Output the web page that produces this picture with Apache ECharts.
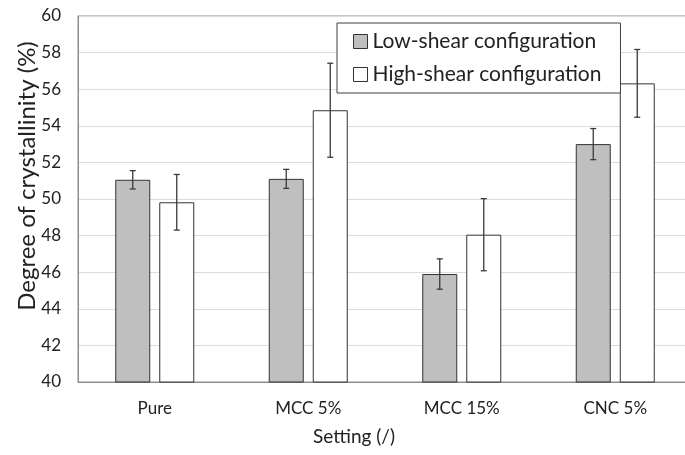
<!DOCTYPE html>
<html><head><meta charset="utf-8">
<script src="https://cdn.jsdelivr.net/npm/echarts@6/dist/echarts.min.js"></script>
<style>html,body{margin:0;padding:0;background:#fff}#c{width:685px;height:455px}</style>
</head><body><div id="c"></div>
<script>
const categories = ['Pure', 'MCC 5%', 'MCC 15%', 'CNC 5%'];
const seriesNames = ['Low-shear configuration', 'High-shear configuration'];
const lowShear = [51.05, 51.1, 45.9, 53.0];
const lowShearErr = [0.5, 0.52, 0.83, 0.85];
const highShear = [49.82, 54.85, 48.05, 56.32];
const highShearErr = [1.52, 2.57, 1.97, 1.85];
const yTicks = [40, 42, 44, 46, 48, 50, 52, 54, 56, 58, 60];
const xTitle = 'Setting (/)';
const yTitle = 'Degree of crystallinity (%)';

const FONT = 'Lato, "Open Sans", sans-serif';
const TXT = '#222';
const BAR_W = 35, GAP = 9;

function errSeries(vals, errs, side) {
  return {
    type: 'custom',
    z: 10,
    silent: true,
    data: vals.map((v, i) => [i, v - errs[i], v + errs[i]]),
    renderItem: function (params, api) {
      const off = side * (BAR_W + GAP) / 2;
      const lo = api.coord([api.value(0), api.value(1)]);
      const hi = api.coord([api.value(0), api.value(2)]);
      const x = lo[0] + off;
      const cap = 3;
      const st = { stroke: '#3a3a3a', lineWidth: 1.3 };
      return {
        type: 'group',
        children: [
          { type: 'line', shape: { x1: x, y1: lo[1], x2: x, y2: hi[1] }, style: st },
          { type: 'line', shape: { x1: x - cap, y1: lo[1], x2: x + cap, y2: lo[1] }, style: st },
          { type: 'line', shape: { x1: x - cap, y1: hi[1], x2: x + cap, y2: hi[1] }, style: st }
        ]
      };
    }
  };
}

const chart = echarts.init(document.getElementById('c'));
chart.setOption({
  animation: false,
  textStyle: { fontFamily: FONT },
  grid: { left: 78, width: 614, top: 16, bottom: 73, show: true, borderColor: '#8c8c8c', borderWidth: 1,
          outerBoundsMode: 'none', containLabel: false },
  legend: {
    left: 337, top: 23, orient: 'vertical',
    data: seriesNames,
    icon: 'rect',
    itemWidth: 14, itemHeight: 14, itemGap: 12,
    padding: [8, 19, 8, 16],
    borderColor: '#404040', borderWidth: 1, backgroundColor: '#fff',
    textStyle: { fontSize: 21, color: TXT, fontFamily: FONT },
    itemStyle: { borderColor: '#333', borderWidth: 1 },
    z: 20
  },
  graphic: [
    { type: 'text', x: 354, y: 437, silent: true,
      style: { text: xTitle, font: '19px ' + FONT, fill: TXT, align: 'center', verticalAlign: 'middle' } },
    { type: 'text', x: 27, y: 176, rotation: Math.PI / 2, silent: true,
      style: { text: yTitle, font: '24px ' + FONT, fill: TXT, align: 'center', verticalAlign: 'middle' } }
  ],
  xAxis: {
    type: 'category', data: categories,
    axisTick: { show: false },
    axisLine: { lineStyle: { color: '#8c8c8c' } },
    axisLabel: { fontSize: 17, color: TXT, margin: 18 }
  },
  yAxis: {
    type: 'value', min: 40, max: 60, interval: 2,
    axisLine: { show: true, lineStyle: { color: '#8c8c8c' } },
    axisTick: { show: false },
    splitLine: { lineStyle: { color: '#dcdcdc', width: 1 } },
    axisLabel: { fontSize: 17, color: TXT, margin: 17,
      formatter: v => yTicks.includes(v) ? String(v) : '' }
  },
  series: [
    { name: seriesNames[0], type: 'bar', data: lowShear, barWidth: BAR_W, barGap: (GAP / BAR_W * 100) + '%',
      itemStyle: { color: '#bfbfbf', borderColor: '#333', borderWidth: 1 } },
    { name: seriesNames[1], type: 'bar', data: highShear, barWidth: BAR_W,
      itemStyle: { color: '#ffffff', borderColor: '#333', borderWidth: 1 } },
    errSeries(lowShear, lowShearErr, -1),
    errSeries(highShear, highShearErr, 1)
  ]
});
</script></body></html>
